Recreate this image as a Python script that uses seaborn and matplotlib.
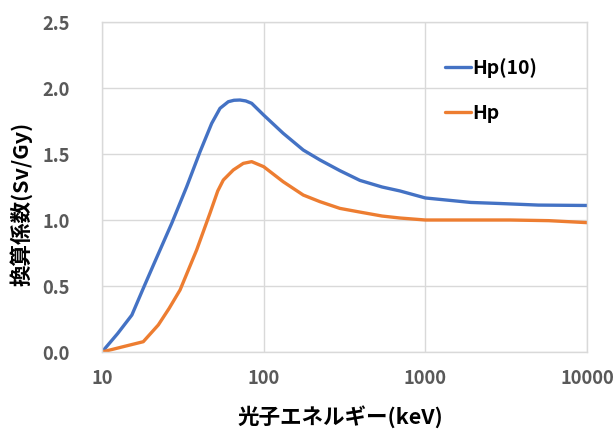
import matplotlib
matplotlib.use("Agg")
import matplotlib.pyplot as plt
import seaborn as sns
import pandas as pd
from matplotlib.ticker import FixedLocator, FixedFormatter, NullLocator

# ---- data ----
energy_hp10 = [10, 12.5, 15.3, 18.0, 20.8, 27.0, 33.4, 40.4, 47.7, 53.7, 60.4, 65.5, 71.3, 77.5, 84.3,
               100, 132, 175.8, 222.8, 296, 394, 540, 697, 1000, 1911, 2891, 5000, 10000]
hp10 = [0.0, 0.14, 0.28, 0.482, 0.659, 0.975, 1.252, 1.517, 1.732, 1.846, 1.896, 1.907, 1.909, 1.902, 1.884,
        1.795, 1.657, 1.53, 1.455, 1.374, 1.30, 1.25, 1.22, 1.167, 1.133, 1.125, 1.113, 1.11]

energy_hp = [10, 13.5, 18.0, 22.3, 26.0, 30.4, 38.5, 46.5, 52.0, 56.3, 64.9, 74.8, 84.3, 100, 132, 175.8,
             222.8, 296, 394, 540, 697, 1000, 2000, 3340, 5800, 10000]
hp = [0.0, 0.04, 0.078, 0.205, 0.33, 0.47, 0.773, 1.05, 1.22, 1.303, 1.379, 1.429, 1.442, 1.404, 1.29, 1.189,
      1.139, 1.088, 1.06, 1.03, 1.015, 1.0, 1.0, 1.0, 0.995, 0.98]

series_names = ["Hp(10)", "Hp"]
x_ticks = [10, 100, 1000, 10000]
x_tick_labels = ["10", "100", "1000", "10000"]
y_ticks = [0.0, 0.5, 1.0, 1.5, 2.0, 2.5]
y_tick_labels = ["0.0", "0.5", "1.0", "1.5", "2.0", "2.5"]
x_title = "光子エネルギー(keV)"
y_title = "換算係数(Sv/Gy)"

df = pd.concat([
    pd.DataFrame({"E": energy_hp10, "v": hp10, "s": series_names[0]}),
    pd.DataFrame({"E": energy_hp, "v": hp, "s": series_names[1]}),
], ignore_index=True)

sns.set_theme(style="white")
plt.rcParams["font.family"] = ["Noto Sans CJK JP", "DejaVu Sans"]

fig = plt.figure(figsize=(6.14, 4.30), dpi=100)
ax = fig.add_axes([102/614, 1 - 352/430, (587-102)/614, (352-22)/430])

sns.lineplot(data=df, x="E", y="v", hue="s", hue_order=series_names,
             palette=["#4472C4", "#ED7D31"], linewidth=2.4, sort=True,
             estimator=None, ax=ax)
for ln in ax.get_lines():
    ln.set_solid_joinstyle("round")
    ln.set_solid_capstyle("round")

ax.set_xscale("log")
ax.set_xlim(10, 10000)
ax.set_ylim(0, 2.5)
ax.xaxis.set_major_locator(FixedLocator(x_ticks))
ax.xaxis.set_major_formatter(FixedFormatter(x_tick_labels))
ax.xaxis.set_minor_locator(NullLocator())
ax.set_yticks(y_ticks)
ax.set_yticklabels(y_tick_labels)

ax.grid(True, color="#D9D9D9", linewidth=1.0)
ax.set_axisbelow(True)
for sp in ax.spines.values():
    sp.set_visible(True)
    sp.set_color("#D9D9D9")
    sp.set_linewidth(1.0)

ax.tick_params(axis="both", length=0, labelsize=13.2, colors="#595959")
ax.tick_params(axis="y", pad=23)
ax.tick_params(axis="x", pad=12)
for lab in ax.get_xticklabels() + ax.get_yticklabels():
    lab.set_fontweight("bold")

ax.set_xlabel(x_title, fontsize=15.5, fontweight="bold", color="black")
ax.set_ylabel(y_title, fontsize=15.5, fontweight="bold", color="black")
ax.xaxis.set_label_coords((340-102)/485, -(417-352)/330)
ax.yaxis.set_label_coords(-(102-21)/485, (352-204)/330)
ax.xaxis.label.set_va("center")
ax.yaxis.label.set_va("center")

leg = ax.legend(loc="upper left", bbox_to_anchor=(0.672, 0.945), frameon=False,
                handlelength=1.3, handletextpad=0.1, labelspacing=1.37,
                prop={"weight": "bold", "size": 14})
for t in leg.get_texts():
    t.set_color("black")

fig.savefig("out.png", dpi=100)
